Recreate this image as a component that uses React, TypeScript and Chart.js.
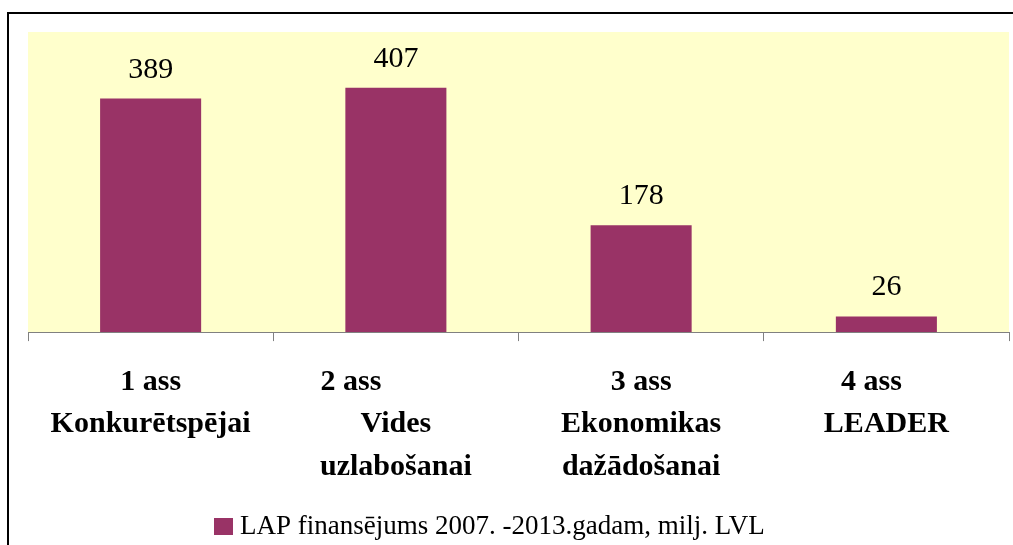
import React, { useEffect, useRef } from "react";
import { Chart, registerables } from "chart.js";

Chart.register(...registerables);

const categories: string[][] = [
  ["1 ass", "Konkurētspējai"],
  ["2 ass            ", "Vides", "uzlabošanai"],
  ["3 ass", "Ekonomikas", "dažādošanai"],
  ["4 ass    ", "LEADER"],
];
const values: number[] = [389, 407, 178, 26];
const seriesLabel = "LAP finansējums 2007. -2013.gadam, milj. LVL";
const barColor = "#993366";
const plotBg = "#FFFFCC";
const serif = "'Liberation Serif', 'Times New Roman', serif";

const framePlugin = {
  id: "frame",
  beforeDraw(chart: any) {
    const { ctx, width, height, chartArea } = chart;
    ctx.save();
    ctx.fillStyle = "#ffffff";
    ctx.fillRect(0, 0, width, height);
    ctx.strokeStyle = "#000000";
    ctx.lineWidth = 2;
    ctx.beginPath();
    ctx.moveTo(8, height + 2);
    ctx.lineTo(8, 13);
    ctx.lineTo(width + 2, 13);
    ctx.stroke();
    ctx.fillStyle = plotBg;
    ctx.fillRect(chartArea.left, chartArea.top, chartArea.right - chartArea.left, chartArea.bottom - chartArea.top);
    ctx.restore();
  },
  afterDatasetsDraw(chart: any) {
    const { ctx } = chart;
    const meta = chart.getDatasetMeta(0);
    ctx.save();
    ctx.fillStyle = "#000000";
    ctx.font = `30px ${serif}`;
    ctx.textAlign = "center";
    ctx.textBaseline = "alphabetic";
    meta.data.forEach((bar: any, i: number) => {
      ctx.fillText(String(chart.data.datasets[0].data[i]), bar.x, bar.y - 21);
    });
    ctx.restore();
  },
  afterDraw(chart: any) {
    const { ctx } = chart;
    const ds = chart.data.datasets[0];
    ctx.save();
    ctx.fillStyle = ds.backgroundColor;
    ctx.fillRect(214, 518, 19, 17);
    ctx.fillStyle = "#000000";
    ctx.font = `27px ${serif}`;
    ctx.textAlign = "left";
    ctx.textBaseline = "middle";
    ctx.fillText(ds.label, 240, 527);
    ctx.restore();
  },
};

export default function App() {
  const ref = useRef<HTMLCanvasElement | null>(null);
  useEffect(() => {
    if (!ref.current) return;
    const chart = new Chart(ref.current, {
      type: "bar",
      data: {
        labels: categories,
        datasets: [
          {
            label: seriesLabel,
            data: values,
            backgroundColor: barColor,
            borderWidth: 0,
            barPercentage: 0.412,
            categoryPercentage: 1,
          },
        ],
      },
      options: {
        responsive: false,
        animation: false,
        layout: { padding: { left: 28, right: 4, top: 32, bottom: 37 } },
        plugins: {
          legend: { display: false },
          tooltip: { enabled: false },
          title: { display: false },
        },
        scales: {
          x: {
            offset: true,
            grid: {
              display: true,
              offset: true,
              drawOnChartArea: false,
              drawTicks: true,
              tickLength: 9,
              color: "#808080",
              lineWidth: 1,
            },
            border: { display: true, color: "#808080", width: 1 },
            ticks: {
              color: "#000000",
              font: { family: serif, size: 30, weight: "bold", lineHeight: 1.41 },
              padding: 20,
              maxRotation: 0,
              minRotation: 0,
              autoSkip: false,
            },
          },
          y: {
            display: false,
            min: 0,
            max: 500,
          },
        },
      },
      plugins: [framePlugin],
    });
    return () => chart.destroy();
  }, []);
  return (
    <div style={{ position: "absolute", left: 0, top: 0, width: 1013, height: 545 }}>
      <canvas ref={ref} width={1013} height={545} />
    </div>
  );
}
